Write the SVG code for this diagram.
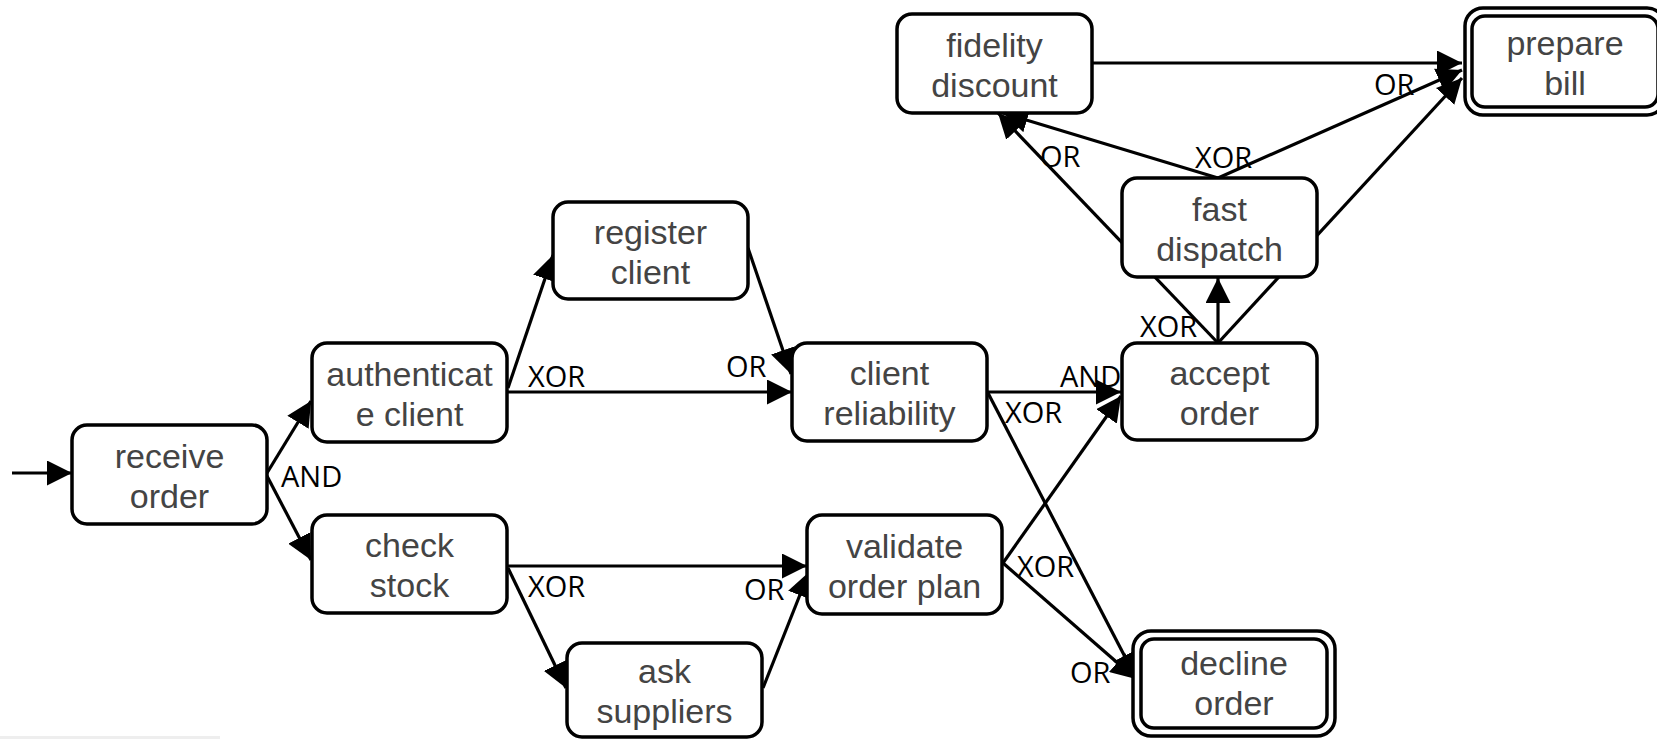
<svg xmlns="http://www.w3.org/2000/svg" width="1657" height="739" viewBox="0 0 1657 739">
  <style>
    .box { fill: #ffffff; stroke: #000000; stroke-width: 3.5; }
    .lbl { font-family: "Liberation Sans", Arial, sans-serif; font-size: 34px; fill: #444444; text-anchor: middle; }
    .gate { font-family: "Open Sans", "Noto Sans", sans-serif; font-size: 29px; fill: #000000; }
    .edge { stroke: #000000; stroke-width: 3.2; fill: none; marker-end: url(#arrow); }
  </style>
  <defs>
    <marker id="arrow" markerUnits="userSpaceOnUse" viewBox="0 0 25 25" markerWidth="25" markerHeight="25" refX="25" refY="12.5" orient="auto">
      <path d="M0,0 L25,12.5 L0,25 z" fill="#000000"/>
    </marker>
  </defs>
  <rect width="1657" height="739" fill="#ffffff"/>
  <rect x="0" y="736" width="220" height="3" fill="#eeeeee"/>

  <!-- connectors -->
  <g id="connectors">
    <line class="edge" x1="12" y1="473" x2="72" y2="473"/>
    <line class="edge" x1="267" y1="473" x2="311" y2="401"/>
    <line class="edge" x1="267" y1="476" x2="311" y2="560"/>
    <line class="edge" x1="508" y1="388" x2="553" y2="255"/>
    <line class="edge" x1="508" y1="392" x2="792" y2="392"/>
    <line class="edge" x1="748" y1="248" x2="791" y2="374"/>
    <line class="edge" x1="508" y1="566" x2="807" y2="566"/>
    <line class="edge" x1="508" y1="568" x2="566" y2="688"/>
    <line class="edge" x1="763" y1="688" x2="809" y2="572"/>
    <line class="edge" x1="988" y1="392" x2="1121" y2="392"/>
    <line class="edge" x1="988" y1="393" x2="1136" y2="678"/>
    <line class="edge" x1="1003" y1="563" x2="1121" y2="396"/>
    <line class="edge" x1="1003" y1="563" x2="1136" y2="679"/>
    <line class="edge" x1="1218" y1="343" x2="1218" y2="278"/>
    <line class="edge" x1="1218" y1="343" x2="998" y2="113"/>
    <line class="edge" x1="1218" y1="343" x2="1462" y2="78"/>
    <line class="edge" x1="1218" y1="178" x2="1003" y2="113"/>
    <line class="edge" x1="1218" y1="178" x2="1462" y2="70"/>
    <line class="edge" x1="1092" y1="63" x2="1462" y2="63"/>
  </g>

  <!-- gateway labels -->
  <g id="gate-labels">
    <text class="gate" x="281" y="487">AND</text>
    <text class="gate" x="528" y="387">XOR</text>
    <text class="gate" x="726" y="377">OR</text>
    <text class="gate" x="528" y="597">XOR</text>
    <text class="gate" x="744" y="600">OR</text>
    <text class="gate" x="1060" y="387">AND</text>
    <text class="gate" x="1005" y="423">XOR</text>
    <text class="gate" x="1017" y="577">XOR</text>
    <text class="gate" x="1070" y="683">OR</text>
    <text class="gate" x="1140" y="337">XOR</text>
    <text class="gate" x="1040" y="167">OR</text>
    <text class="gate" x="1195" y="168">XOR</text>
    <text class="gate" x="1374" y="95">OR</text>
  </g>

  <!-- activities -->
  <g id="receive-order">
    <rect class="box" x="72" y="425" width="195" height="99" rx="15"/>
    <text class="lbl" x="169.5" y="467.5">receive</text>
    <text class="lbl" x="169.5" y="507.5">order</text>
  </g>
  <g id="authenticate-client">
    <rect class="box" x="312" y="343" width="195" height="99" rx="15"/>
    <text class="lbl" x="409.5" y="385.5">authenticat</text>
    <text class="lbl" x="409.5" y="425.5">e client</text>
  </g>
  <g id="check-stock">
    <rect class="box" x="312" y="515" width="195" height="98" rx="15"/>
    <text class="lbl" x="409.5" y="557">check</text>
    <text class="lbl" x="409.5" y="597">stock</text>
  </g>
  <g id="register-client">
    <rect class="box" x="553" y="202" width="195" height="97" rx="15"/>
    <text class="lbl" x="650.5" y="243.5">register</text>
    <text class="lbl" x="650.5" y="283.5">client</text>
  </g>
  <g id="client-reliability">
    <rect class="box" x="792" y="343" width="195" height="98" rx="15"/>
    <text class="lbl" x="889.5" y="385">client</text>
    <text class="lbl" x="889.5" y="425">reliability</text>
  </g>
  <g id="validate-order-plan">
    <rect class="box" x="807" y="515" width="195" height="99" rx="15"/>
    <text class="lbl" x="904.5" y="557.5">validate</text>
    <text class="lbl" x="904.5" y="597.5">order plan</text>
  </g>
  <g id="ask-suppliers">
    <rect class="box" x="567" y="643" width="195" height="94" rx="15"/>
    <text class="lbl" x="664.5" y="683">ask</text>
    <text class="lbl" x="664.5" y="723">suppliers</text>
  </g>
  <g id="accept-order">
    <rect class="box" x="1122" y="343" width="195" height="97" rx="15"/>
    <text class="lbl" x="1219.5" y="384.5">accept</text>
    <text class="lbl" x="1219.5" y="424.5">order</text>
  </g>
  <g id="fast-dispatch">
    <rect class="box" x="1122" y="178" width="195" height="99" rx="15"/>
    <text class="lbl" x="1219.5" y="220.5">fast</text>
    <text class="lbl" x="1219.5" y="260.5">dispatch</text>
  </g>
  <g id="fidelity-discount">
    <rect class="box" x="897" y="14" width="195" height="99" rx="15"/>
    <text class="lbl" x="994.5" y="56.5">fidelity</text>
    <text class="lbl" x="994.5" y="96.5">discount</text>
  </g>
  <g id="prepare-bill">
    <rect class="box" x="1465" y="8" width="200" height="107" rx="18"/>
    <rect class="box" x="1472" y="16" width="186" height="91" rx="13"/>
    <text class="lbl" x="1565" y="55">prepare</text>
    <text class="lbl" x="1565" y="95">bill</text>
  </g>
  <g id="decline-order">
    <rect class="box" x="1133" y="631" width="202" height="105" rx="18"/>
    <rect class="box" x="1141" y="639" width="186" height="89" rx="13"/>
    <text class="lbl" x="1234" y="675">decline</text>
    <text class="lbl" x="1234" y="715">order</text>
  </g>
</svg>
